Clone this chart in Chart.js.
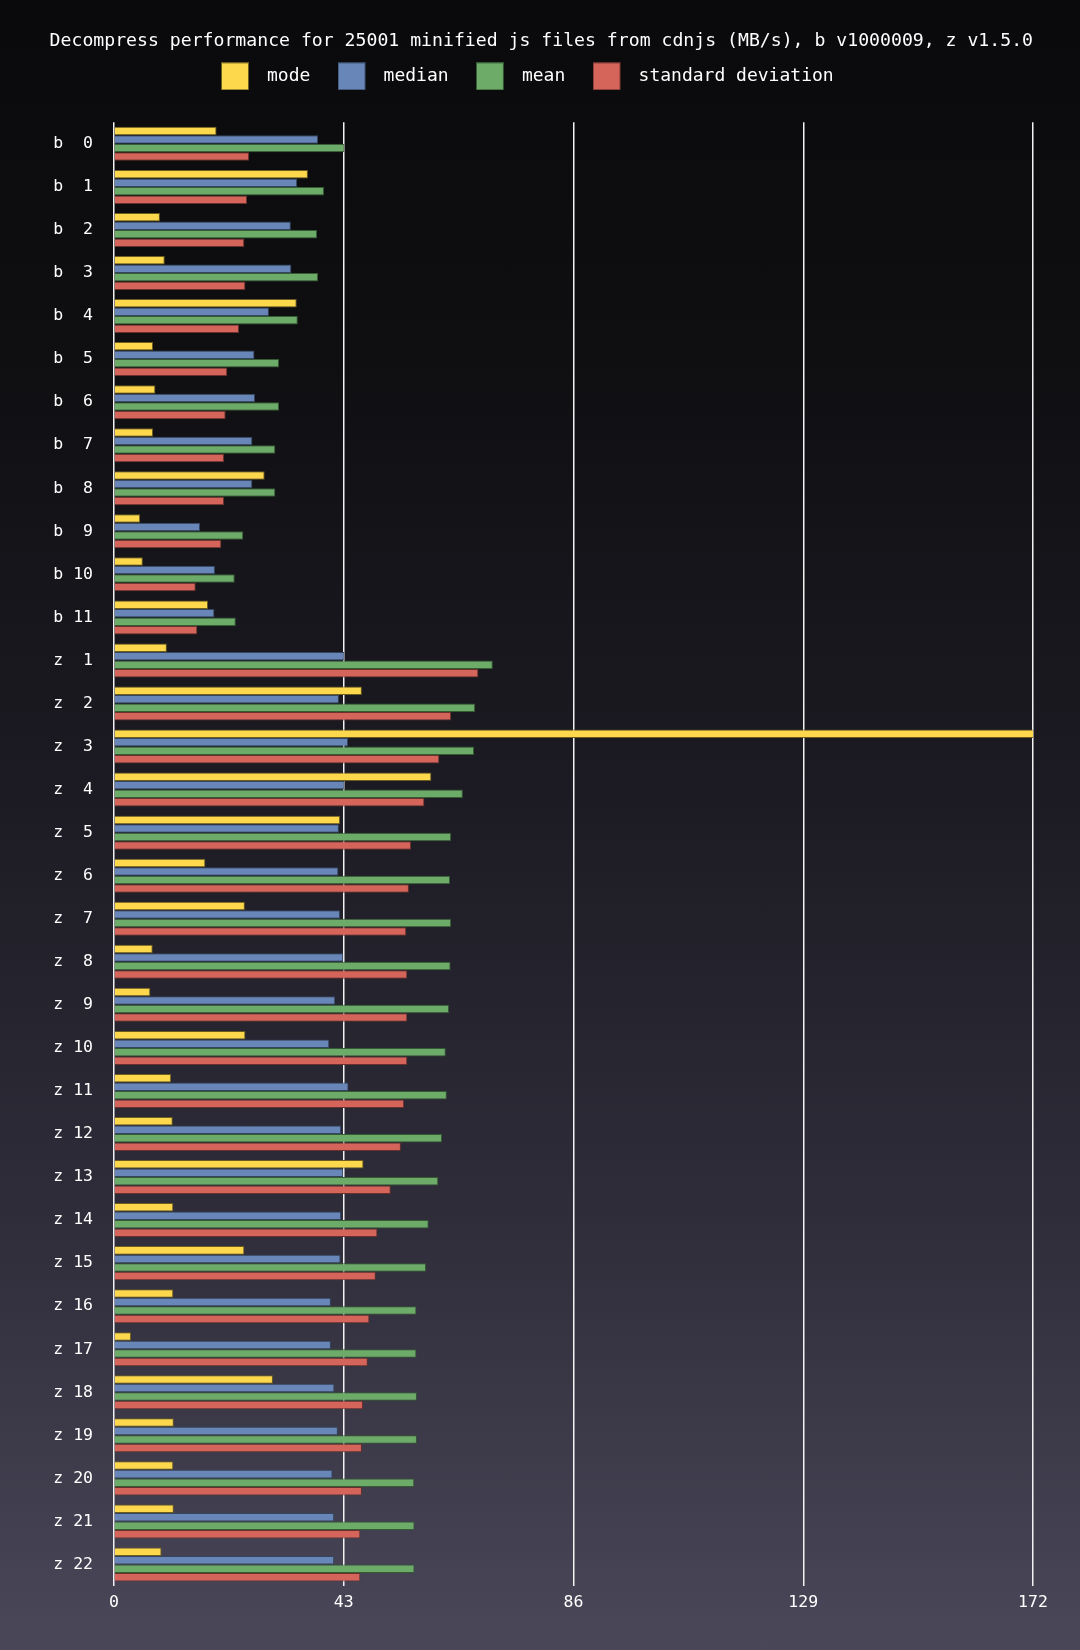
<!DOCTYPE html>
<html>
<head>
<meta charset="utf-8">
<script src="https://cdn.jsdelivr.net/npm/chart.js@4.4.1/dist/chart.umd.min.js"></script>
<style>
html, body { margin: 0; padding: 0; width: 1080px; height: 1650px; overflow: hidden; }
body { background: linear-gradient(to bottom, #0a0a0c 0%, #0f0f12 22%, #1c1b23 48%, #2f2d3a 74%, #4a4759 100%); }
canvas { display: block; }
</style>
</head>
<body>
<canvas id="chart" width="1080" height="1650"></canvas>
<script>
const titleText = "Decompress performance for 25001 minified js files from cdnjs (MB/s), b v1000009, z v1.5.0";
const categories = ["b  0", "b  1", "b  2", "b  3", "b  4", "b  5", "b  6", "b  7", "b  8", "b  9", "b 10", "b 11",
  "z  1", "z  2", "z  3", "z  4", "z  5", "z  6", "z  7", "z  8", "z  9", "z 10", "z 11", "z 12", "z 13", "z 14",
  "z 15", "z 16", "z 17", "z 18", "z 19", "z 20", "z 21", "z 22"];
const seriesNames = ["mode", "median", "mean", "standard deviation"];
const modeValues = [19.2, 36.3, 8.6, 9.5, 34.2, 7.3, 7.75, 7.3, 28.2, 4.9, 5.4, 17.6,
  9.9, 46.4, 172.4, 59.4, 42.3, 17.1, 24.5, 7.25, 6.8, 24.6, 10.7, 11.0, 46.7, 11.1, 24.4, 11.1, 3.2, 29.75, 11.2, 11.1, 11.2, 8.9];
const medianValues = [38.2, 34.3, 33.1, 33.2, 29.0, 26.3, 26.4, 25.9, 25.9, 16.1, 18.9, 18.8,
  43.1, 42.1, 43.8, 43.1, 42.1, 42.0, 42.3, 42.9, 41.4, 40.3, 43.9, 42.5, 42.9, 42.5, 42.4, 40.6, 40.6, 41.25, 41.9, 40.9, 41.2, 41.2];
const meanValues = [43.1, 39.3, 38.0, 38.2, 34.4, 30.9, 30.9, 30.2, 30.2, 24.2, 22.6, 22.8,
  70.9, 67.6, 67.4, 65.3, 63.1, 62.9, 63.1, 63.0, 62.7, 62.1, 62.3, 61.4, 60.7, 58.9, 58.4, 56.6, 56.6, 56.7, 56.7, 56.2, 56.25, 56.25];
const stdDevValues = [25.3, 24.9, 24.4, 24.6, 23.4, 21.2, 20.9, 20.6, 20.6, 20.1, 15.3, 15.6,
  68.2, 63.1, 60.9, 58.1, 55.6, 55.2, 54.7, 54.9, 54.9, 54.9, 54.3, 53.7, 51.8, 49.3, 49.0, 47.8, 47.5, 46.6, 46.4, 46.4, 46.1, 46.1];
const xTickValues = [0, 43, 86, 129, 172];

const fillColors = ["#fdd84d", "#6887b8", "#6dab69", "#d5655b"];
const edgeColors = ["#6b5d20", "#34455f", "#355a34", "#6a302b"];
const FONT = "'DejaVu Sans Mono', 'Liberation Mono', monospace";

function legendSwatch(color, edge) {
  const c = document.createElement('canvas');
  c.width = 37; c.height = 28;
  const g = c.getContext('2d');
  g.fillStyle = color;
  g.fillRect(0, 0, 28, 28);
  g.strokeStyle = edge;
  g.lineWidth = 1;
  g.strokeRect(0.5, 0.5, 27, 27);
  return c;
}
const swatches = fillColors.map((c, i) => legendSwatch(c, edgeColors[i]));

const valueSets = [modeValues, medianValues, meanValues, stdDevValues];
const datasets = valueSets.map((vals, i) => ({
  label: seriesNames[i],
  data: vals,
  backgroundColor: fillColors[i],
  borderColor: edgeColors[i],
  borderWidth: 1,
  categoryPercentage: 0.79,
  barPercentage: 1.0
}));

const legendShift = {
  id: 'legendShift',
  afterLayout(chart) {
    if (chart.legend) { chart.legend.left -= 14; chart.legend.right -= 14; }
  }
};

new Chart(document.getElementById('chart'), {
  type: 'bar',
  data: { labels: categories, datasets: datasets },
  plugins: [legendShift],
  options: {
    indexAxis: 'y',
    responsive: false,
    animation: false,
    layout: { padding: { top: 0, left: 49.6, right: 47, bottom: 34 } },
    plugins: {
      title: {
        display: true,
        text: titleText,
        color: '#ffffff',
        font: { family: FONT, size: 18.35, weight: 'normal' },
        padding: { top: 30, bottom: -12 }
      },
      subtitle: {
        display: true,
        text: '',
        weight: 500,
        font: { family: FONT, size: 10 },
        padding: { top: 15, bottom: 0 }
      },
      legend: {
        display: true,
        position: 'top',
        labels: {
          color: '#ffffff',
          font: { family: FONT, size: 18 },
          padding: 27.3,
          usePointStyle: true,
          pointStyleWidth: 37,
          boxHeight: 18,
          generateLabels(chart) {
            const items = Chart.defaults.plugins.legend.labels.generateLabels(chart);
            items.forEach((it, i) => { it.pointStyle = swatches[i]; });
            return items;
          }
        }
      },
      tooltip: { enabled: false }
    },
    scales: {
      x: {
        type: 'linear',
        position: 'bottom',
        min: 0,
        max: 172,
        z: 1,
        afterBuildTicks(scale) { scale.ticks = xTickValues.map(v => ({ value: v })); },
        afterFit(scale) { scale.height = 30; },
        grid: { color: '#f2f2f2', lineWidth: 1.5, drawTicks: false },
        border: { display: false },
        ticks: { color: '#ffffff', font: { family: FONT, size: 16.5 }, padding: 7 }
      },
      y: {
        type: 'category',
        afterFit(scale) { scale.width = 64.4; },
        grid: { display: false, drawTicks: false },
        border: { display: false },
        ticks: { color: '#ffffff', font: { family: FONT, size: 16.5 }, padding: 21, autoSkip: false }
      }
    }
  }
});
</script>
</body>
</html>
